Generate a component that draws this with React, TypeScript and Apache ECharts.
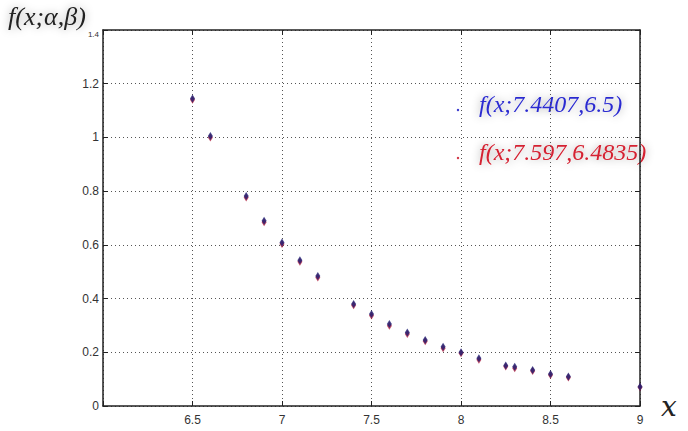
import React, { useEffect, useRef } from "react";
import * as echarts from "echarts";

const xValues = [6.5, 6.6, 6.8, 6.9, 7.0, 7.1, 7.2, 7.4, 7.5, 7.6, 7.7, 7.8, 7.9, 8.0, 8.1, 8.25, 8.3, 8.4, 8.5, 8.6, 9.0];
const blueValues = [1.145, 1.005, 0.782, 0.69, 0.609, 0.543, 0.484, 0.38, 0.343, 0.305, 0.274, 0.246, 0.221, 0.2, 0.178, 0.151, 0.146, 0.134, 0.119, 0.11, 0.072];
const redValues = [1.14, 1.0, 0.776, 0.684, 0.603, 0.537, 0.478, 0.375, 0.337, 0.299, 0.268, 0.241, 0.215, 0.196, 0.172, 0.147, 0.141, 0.13, 0.115, 0.106, 0.07];
const blueLabel = "f(x;7.4407,6.5)";
const redLabel = "f(x;7.597,6.4835)";
const yTitle = "f(x;α,β)";
const xTitle = "x";

export default function App() {
  const ref = useRef<HTMLDivElement>(null);
  useEffect(() => {
    const chart = echarts.init(ref.current!, null, { renderer: "svg" });
    const tickFont = { fontFamily: "Liberation Sans Narrow, Liberation Sans, sans-serif", fontSize: 12, color: "#333" };
    const axisBase = {
      type: "value" as const,
      axisLine: { show: true, onZero: false, lineStyle: { color: "#222", width: 1.5 } },
      axisTick: { show: true, inside: true, length: 5, lineStyle: { color: "#222" } },
    };
    chart.setOption({
      animation: false,
      grid: { left: 103, right: 48, top: 30, bottom: 25 },
      xAxis: [
        {
          ...axisBase,
          min: 6, max: 9, interval: 0.5,
          axisLabel: { ...tickFont, margin: 8, formatter: (v: number) => (v === 6 ? "" : String(v)) },
          splitLine: { show: true, lineStyle: { color: "#555", type: [1, 3], width: 1 } },
        },
        {
          ...axisBase, position: "top",
          min: 6, max: 9, interval: 0.5,
          axisLabel: { show: false },
          splitLine: { show: false },
        },
      ],
      yAxis: [
        {
          ...axisBase,
          min: 0, max: 1.4, interval: 0.2,
          axisLabel: {
            ...tickFont, margin: 4,
            formatter: (v: number) => (Math.abs(v - 1.4) < 1e-6 ? "{s|1.4}" : String(Math.round(v * 10) / 10)),
            rich: { s: { fontSize: 8, fontFamily: "Liberation Sans Narrow, sans-serif", color: "#333", padding: [8, 0, 0, 0] } },
          },
          splitLine: { show: true, lineStyle: { color: "#555", type: [1, 3], width: 1 } },
        },
        {
          ...axisBase, position: "right",
          min: 0, max: 1.4, interval: 0.2,
          axisLabel: { show: false },
          splitLine: { show: false },
        },
      ],
      series: [
        {
          type: "scatter",
          name: redLabel,
          data: xValues.map((x, i) => [x, redValues[i]]),
          symbol: "diamond",
          symbolSize: [5, 8],
          itemStyle: { color: "#b02040" },
        },
        {
          type: "scatter",
          name: blueLabel,
          data: xValues.map((x, i) => [x, blueValues[i]]),
          symbol: "diamond",
          symbolSize: [5, 8],
          itemStyle: { color: "#1c1c70" },
        },
      ],
      graphic: [
        {
          type: "text", left: 8, top: 3,
          style: {
            text: yTitle, font: "italic 26px 'Liberation Serif', serif", fill: "#222",
            textShadowColor: "rgba(0,0,0,0.35)", textShadowBlur: 8,
          },
        },
        {
          type: "text", left: 661, top: 392,
          style: { text: xTitle, font: "italic 28px 'DejaVu Serif', serif", fill: "#222" },
        },
        { type: "circle", shape: { cx: 458, cy: 110, r: 1.2 }, style: { fill: "#3333cc" } },
        {
          type: "text", left: 479, top: 92,
          style: {
            text: blueLabel, font: "italic 24px 'Liberation Serif', serif", fill: "#2b2bd0",
            textShadowColor: "rgba(0,0,0,0.4)", textShadowBlur: 8,
          },
        },
        { type: "circle", shape: { cx: 458, cy: 158, r: 1.2 }, style: { fill: "#d03040" } },
        {
          type: "text", left: 479, top: 140,
          style: {
            text: redLabel, font: "italic 24px 'Liberation Serif', serif", fill: "#d42030",
            textShadowColor: "rgba(0,0,0,0.4)", textShadowBlur: 8,
          },
        },
      ],
    });
    return () => chart.dispose();
  }, []);
  return <div ref={ref} style={{ width: 688, height: 431, position: "absolute", left: 0, top: 0, background: "#fff" }} />;
}
